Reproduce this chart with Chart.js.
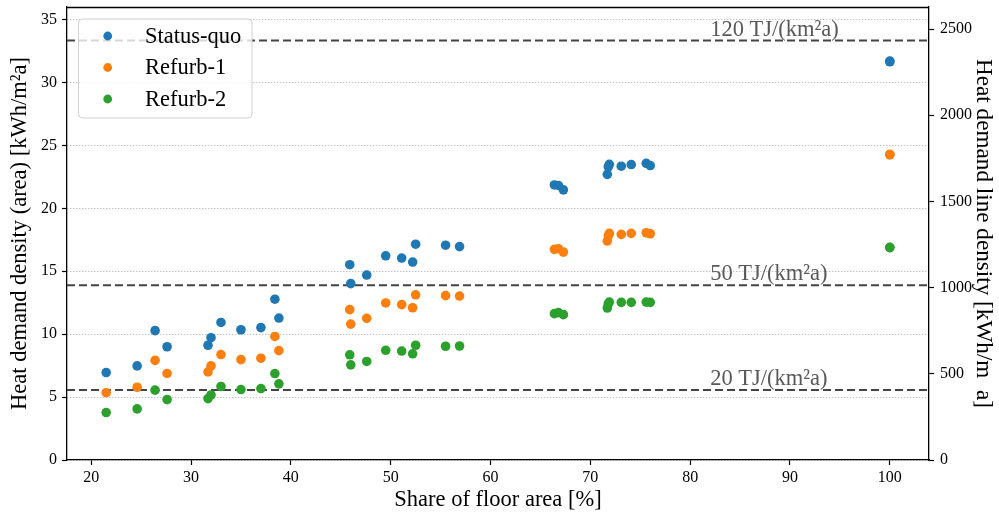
<!DOCTYPE html>
<html><head><meta charset="utf-8">
<script src="https://cdn.jsdelivr.net/npm/chart.js@4.4.1/dist/chart.umd.min.js"></script>
<style>html,body{margin:0;padding:0;background:#fff}#wrap{width:999px;height:517px;position:relative}</style>
</head><body><div id="wrap"><canvas id="c"></canvas></div>
<script>
// ---- data ----
const floorShare = [21.5,24.6,26.4,27.6,31.7,32.0,33.0,35.0,37.0,38.4,38.8,45.9,46.0,47.6,49.5,51.1,52.2,52.5,55.5,56.9,66.4,66.8,67.3,71.7,71.9,71.8,73.1,74.1,75.6,76.0,100,100];
const statusQuo = [6.95,7.48,10.28,9.0,9.12,9.72,10.93,10.35,10.52,12.78,11.28,15.52,14.02,14.7,16.23,16.05,15.73,17.15,17.07,16.96,21.86,21.82,21.47,22.7,23.5,23.3,23.35,23.48,23.58,23.4,31.7,31.65];
const refurb1 = [5.35,5.78,7.92,6.88,7.0,7.48,8.38,7.98,8.09,9.82,8.69,11.95,10.8,11.26,12.48,12.35,12.1,13.13,13.06,13.03,16.74,16.79,16.52,17.4,18.01,17.8,17.93,18.01,18.06,17.98,24.3,24.25];
const refurb2 = [3.77,4.06,5.55,4.8,4.88,5.17,5.84,5.6,5.68,6.87,6.05,8.36,7.56,7.83,8.72,8.66,8.44,9.12,9.04,9.06,11.63,11.71,11.55,12.08,12.55,12.4,12.53,12.53,12.55,12.53,16.9,16.88];
const seriesNames = ['Status-quo','Refurb-1','Refurb-2'];
const seriesColors = ['#1f77b4','#ff7f0e','#2ca02c'];
const thresholdsTJ = [120, 50, 20];           // TJ/(km²a)
const thresholdLabels = ['120 TJ/(km²a)','50 TJ/(km²a)','20 TJ/(km²a)'];
const thresholdLabelX = 82;
const xTicks = [20,30,40,50,60,70,80,90,100];
const yLeftTicks = [0,5,10,15,20,25,30,35];
const yRightTicks = [0,500,1000,1500,2000,2500];
const xRange = [17.575, 103.925];
const yLeftRange = [0, 36];
const yRightRange = [0, 2628];

const FONT = "'Liberation Serif','Times New Roman',serif";
const seriesValues = [statusQuo, refurb1, refurb2];

const datasets = seriesValues.map((vals, i) => ({
  label: seriesNames[i],
  data: floorShare.map((x, j) => ({x, y: vals[j]})),
  backgroundColor: seriesColors[i],
  borderColor: seriesColors[i],
  pointRadius: 4.8,
  pointBorderWidth: 0,
  yAxisID: 'y'
}));
// invisible dataset to bind the right axis
datasets.push({label: '_right', data: [], yAxisID: 'y2', pointRadius: 0});

const framePlugin = {
  id: 'frame',
  beforeDatasetsDraw(chart) {
    const {ctx, chartArea: a, scales} = chart;
    ctx.save();
    ctx.strokeStyle = '#000'; ctx.lineWidth = 1.3;
    ctx.beginPath(); ctx.moveTo(a.left, a.top + 0.5); ctx.lineTo(a.right, a.top + 0.5); ctx.stroke();
    ctx.strokeStyle = '#444'; ctx.lineWidth = 2; ctx.setLineDash([8, 4]);
    thresholdsTJ.forEach(t => {
      const y = scales.y.getPixelForValue(t / 3.6);
      ctx.beginPath(); ctx.moveTo(a.left, y); ctx.lineTo(a.right, y); ctx.stroke();
    });
    ctx.setLineDash([]);
    ctx.fillStyle = '#595959';
    ctx.font = "22.5px " + FONT;
    ctx.textAlign = 'left'; ctx.textBaseline = 'alphabetic';
    thresholdsTJ.forEach((t, i) => {
      const y = scales.y.getPixelForValue(t / 3.6);
      ctx.fillText(thresholdLabels[i], scales.x.getPixelForValue(thresholdLabelX), y - 5);
    });
    ctx.restore();
  },
  afterDatasetsDraw(chart) {
    const {ctx} = chart;
    ctx.save();
    const bx = 78.5, by = 19, bw = 173.5, bh = 99, r = 4;
    ctx.beginPath();
    ctx.roundRect(bx, by, bw, bh, r);
    ctx.fillStyle = 'rgba(255,255,255,0.8)';
    ctx.fill();
    ctx.strokeStyle = '#d0d0d0'; ctx.lineWidth = 1;
    ctx.stroke();
    ctx.font = "22.5px " + FONT;
    ctx.textAlign = 'left'; ctx.textBaseline = 'middle';
    seriesNames.forEach((n, i) => {
      const y = 36 + i * 31.5;
      ctx.fillStyle = seriesColors[i];
      ctx.beginPath(); ctx.arc(107.7, y, 4.4, 0, Math.PI * 2); ctx.fill();
      ctx.fillStyle = '#000';
      ctx.fillText(n, 145, y + 1);
    });
    ctx.restore();
  }
};

const noPad = s => { s.paddingTop = 0; s.paddingBottom = 0; s.paddingLeft = 0; s.paddingRight = 0; };

new Chart(document.getElementById('c'), {
  type: 'scatter',
  data: {datasets},
  plugins: [framePlugin],
  options: {
    responsive: true,
    maintainAspectRatio: false,
    animation: false,
    devicePixelRatio: 1,
    layout: {padding: {top: 7, left: 0, right: 0, bottom: 0}},
    plugins: {legend: {display: false}, tooltip: {enabled: false}},
    scales: {
      x: {
        type: 'linear', position: 'bottom',
        min: xRange[0], max: xRange[1],
        afterBuildTicks: s => { s.ticks = xTicks.map(v => ({value: v})); },
        afterFit: s => { s.height = 57; noPad(s); },
        ticks: {color: '#000', font: {family: FONT, size: 16}, padding: 3, callback: v => String(v), maxRotation: 0},
        grid: {drawOnChartArea: false, drawTicks: true, tickLength: 5, tickColor: '#000', tickWidth: 1.2},
        border: {display: true, color: '#000', width: 1.3},
        title: {display: true, text: 'Share of floor area [%]', color: '#000', font: {family: FONT, size: 22.5}, padding: {top: 0, bottom: 3.5}}
      },
      y: {
        type: 'linear', position: 'left',
        min: yLeftRange[0], max: yLeftRange[1],
        afterBuildTicks: s => { s.ticks = yLeftTicks.map(v => ({value: v})); },
        afterFit: s => { s.width = 67; noPad(s); },
        ticks: {color: '#000', font: {family: FONT, size: 16}, padding: 5, callback: v => String(v)},
        grid: {drawOnChartArea: true, color: 'rgba(0,0,0,0.38)', lineWidth: 0.9, drawTicks: true, tickLength: 5, tickColor: '#000', tickWidth: 1.2, tickBorderDash: []},
        border: {display: true, color: '#000', width: 1.3, dash: [1, 2]},
        title: {display: true, text: 'Heat demand density (area) [kWh/m²a]', color: '#000', font: {family: FONT, size: 22.5}, padding: {top: 7, bottom: 0}}
      },
      y2: {
        type: 'linear', position: 'right',
        min: yRightRange[0], max: yRightRange[1],
        afterBuildTicks: s => { s.ticks = yRightTicks.map(v => ({value: v})); },
        afterFit: s => { s.width = 70; noPad(s); },
        ticks: {color: '#000', font: {family: FONT, size: 16}, padding: 6, callback: v => String(v)},
        grid: {drawOnChartArea: false, drawTicks: true, tickLength: 5, tickColor: '#000', tickWidth: 1.2},
        border: {display: true, color: '#000', width: 1.3},
        title: {display: true, text: 'Heat demand line density [kWh/m\u2002a]', color: '#000', font: {family: FONT, size: 23.2}, padding: {top: 2, bottom: 0}}
      }
    }
  }
});
</script>
</body></html>
